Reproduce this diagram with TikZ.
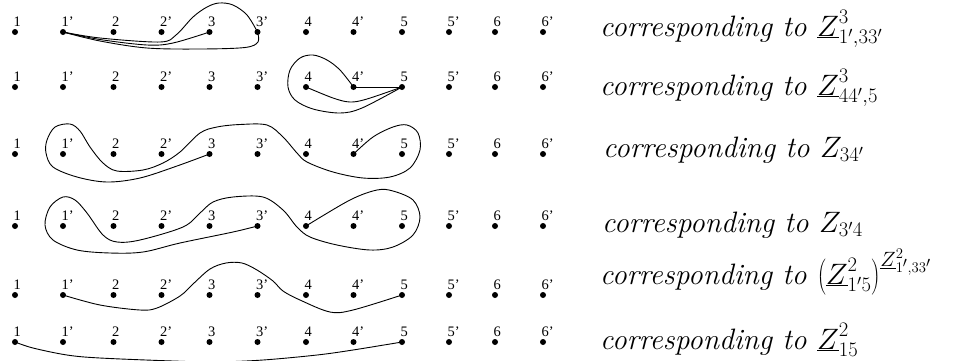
\RequirePackage{fix-cm}
\documentclass[tikz,border=0pt]{standalone}
\usepackage{fontspec}
\newfontfamily\lblfont{Liberation Serif}
\begin{document}
\begin{tikzpicture}[x=1pt,y=-1pt,
  dot/.style={circle,fill=black,inner sep=0pt,minimum size=6pt},
  plab/.style={anchor=base west,inner sep=0pt,font=\lblfont\fontsize{14.5}{15}\selectfont},
  curve/.style={line width=0.9pt,line join=round},
  ctext/.style={anchor=base west,inner sep=0pt,font=\fontsize{29.5}{35}\selectfont\itshape}]
\fill[white] (0,0) rectangle (976,360);
\useasboundingbox (0,0) rectangle (976,360);
\foreach \ro/\yy in {1/32,2/87,3/154,4/226,5/295,6/342}{
  \foreach \kk/\xx/\tt in {1/15/1,2/63/1’,3/113.5/2,4/161.5/2’,5/209.5/3,6/257.5/3’,7/306/4,8/353.5/4’,9/402/5,10/449/5’,11/495/6,12/543/6’}{
    \node[dot] (r\ro n\kk) at (\xx,\yy) {};
    \node[plab] (l\ro n\kk) at (\xx-1.5,\yy-5.5) {\tt};
  }
}
% row 1
\draw[curve] plot[smooth,tension=0.55] coordinates {(r1n2.center) (100,38) (160,42) (176,35) (193,17) (207,7) (219,3) (233,5) (247,15) (r1n6.center)};
\draw[curve] plot[smooth,tension=0.55] coordinates {(r1n2.center) (100,39.5) (147,45) (173,43) (r1n5.center)};
\draw[curve] plot[smooth,tension=0.55] coordinates {(r1n2.center) (100,41) (147,48) (200,49) (245,47.5) (258,42) (r1n6.center)};
% row 2
\draw[curve] (r2n8.center) -- (r2n9.center);
\draw[curve] plot[smooth,tension=0.55] coordinates {(r2n7.center) (333,98) (350,102) (367,99) (r2n9.center)};
\draw[curve] plot[smooth,tension=0.55] coordinates {(r2n8.center) (340,70) (327,60) (313,55) (300,58) (290,70) (288,87) (295,100) (313,109) (340,113) (362,108) (r2n9.center)};
% row 3
\draw[curve] plot[smooth,tension=0.55] coordinates {(r3n5.center) (177,166) (140,178) (107,182) (77,177) (53,167) (46,153) (47,140) (55,127) (70,124) (80,131) (90,147) (103,163) (117,171) (143,170) (163,163) (180,152) (200,133) (217,127) (240,124.5) (267,125) (283,137) (297,153) (307,162) (333,172) (363,178) (390,177) (410,168) (420,150) (418,133) (407,125) (393,127) (373,137) (r3n8.center)};
% row 4
\draw[curve] plot[smooth,tension=0.55] coordinates {(r4n6.center) (233,232) (180,243) (143,252) (110,253) (77,250) (53,240) (45,225) (50,207) (63,197) (75,200) (87,213) (103,235) (117,242) (140,240) (183,227) (200,213) (213,202) (233,197) (263,197) (283,210) (297,227) (310,237) (337,245) (370,250) (393,247) (413,235) (420,217) (413,200) (393,191) (377,190) (350,200) (r4n7.center)};
% row 5
\draw[curve] plot[smooth,tension=0.55] coordinates {(r5n2.center) (100,305) (140,310) (157,308) (180,296) (193,284) (210,269) (226,263) (242,263) (257,270) (273,281) (283,291) (300,300) (330,312) (353,310) (r5n9.center)};
% row 6
\draw[curve] plot[smooth,tension=0.55] coordinates {(r6n1.center) (33,348) (67,355) (100,358) (173,361) (215,362) (263,360) (317,355) (353,350) (r6n9.center)};
% texts
\node[ctext] (t1) at (600,36) {corresponding to $\underline{Z}^3_{1',33'}$};
\node[ctext] (t2) at (600,95) {corresponding to $\underline{Z}^3_{44',5}$};
\node[ctext] (t3) at (603,157) {corresponding to $Z_{34'}$};
\node[ctext] (t4) at (602,232) {corresponding to $Z_{3'4}$};
\node[ctext] (t5) at (600,284) {corresponding to $\left(\underline{Z}^2_{1'5}\right)^{\underline{Z}^2_{1',33'}}$};
\node[ctext] (t6) at (600,349) {corresponding to $\underline{Z}^2_{15}$};
\end{tikzpicture}
\end{document}
